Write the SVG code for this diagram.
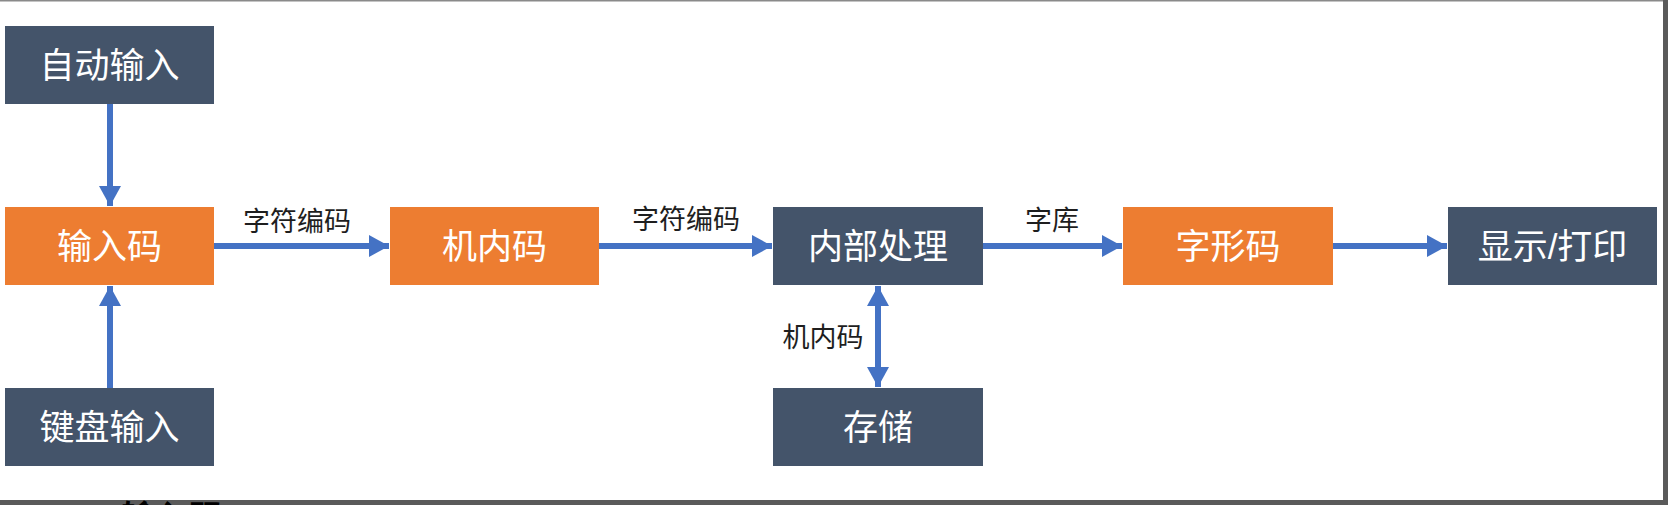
<svg xmlns="http://www.w3.org/2000/svg" width="1668" height="505" viewBox="0 0 1668 505">
<style>
.dark{fill:#44546A}
.orange{fill:#ED7D31}
.nt{fill:#ffffff;font-family:"Liberation Sans","Noto Sans CJK SC",sans-serif;font-size:35px;text-anchor:middle;dominant-baseline:central}
.lt{fill:#1e1e1e;font-family:"Liberation Sans","Noto Sans CJK SC",sans-serif;font-size:27px;text-anchor:middle;dominant-baseline:central}
.ln{stroke:#4472C4;stroke-width:6;fill:none}
</style>
<defs>
<marker id="ah" viewBox="0 0 20 22" refX="20" refY="11" markerWidth="20" markerHeight="22" markerUnits="userSpaceOnUse" orient="auto-start-reverse">
<path d="M0,0 L20,11 L0,22 Z" fill="#4472C4"/>
</marker>
</defs>
<rect x="0" y="0" width="1668" height="505" fill="#ffffff"/>
<g id="connectors">
<line class="ln" x1="110" y1="104" x2="110" y2="206" marker-end="url(#ah)"/>
<line class="ln" x1="110" y1="388" x2="110" y2="286" marker-end="url(#ah)"/>
<line class="ln" x1="214" y1="246" x2="389" y2="246" marker-end="url(#ah)"/>
<line class="ln" x1="599" y1="246" x2="772" y2="246" marker-end="url(#ah)"/>
<line class="ln" x1="983" y1="246" x2="1122" y2="246" marker-end="url(#ah)"/>
<line class="ln" x1="1333" y1="246" x2="1447" y2="246" marker-end="url(#ah)"/>
<line class="ln" x1="878" y1="286" x2="878" y2="387" marker-start="url(#ah)" marker-end="url(#ah)"/>
<text class="lt" x="297" y="222">字符编码</text>
<text class="lt" x="686" y="220">字符编码</text>
<text class="lt" x="1052" y="221">字库</text>
<text class="lt" x="823" y="338">机内码</text>
</g>
<g id="auto-input"><rect class="dark" x="5" y="26" width="209" height="78"/><text class="nt" x="109.5" y="65">自动输入</text></g>
<g id="input-code"><rect class="orange" x="5" y="207" width="209" height="78"/><text class="nt" x="109.5" y="246">输入码</text></g>
<g id="keyboard-input"><rect class="dark" x="5" y="388" width="209" height="78"/><text class="nt" x="109.5" y="427">键盘输入</text></g>
<g id="internal-code"><rect class="orange" x="390" y="207" width="209" height="78"/><text class="nt" x="494.5" y="246">机内码</text></g>
<g id="processing"><rect class="dark" x="773" y="207" width="210" height="78"/><text class="nt" x="878" y="246">内部处理</text></g>
<g id="storage"><rect class="dark" x="773" y="388" width="210" height="78"/><text class="nt" x="878" y="427">存储</text></g>
<g id="glyph-code"><rect class="orange" x="1123" y="207" width="210" height="78"/><text class="nt" x="1228" y="246">字形码</text></g>
<g id="display-print"><rect class="dark" x="1448" y="207" width="209" height="78"/><text class="nt" x="1552.5" y="246">显示/打印</text></g>
<g id="frame">
<rect x="0" y="0" width="1668" height="1.5" fill="#8a8a8a"/>
<rect x="1663" y="0" width="5" height="505" fill="#5a5a5a"/>
<rect x="0" y="500" width="1668" height="5" fill="#5a5a5a"/>
<text x="172.5" y="530" fill="#000000" font-family="'Liberation Sans','Noto Sans CJK SC',sans-serif" font-size="34" font-weight="bold" text-anchor="middle">输入码</text>
</g>
</svg>
